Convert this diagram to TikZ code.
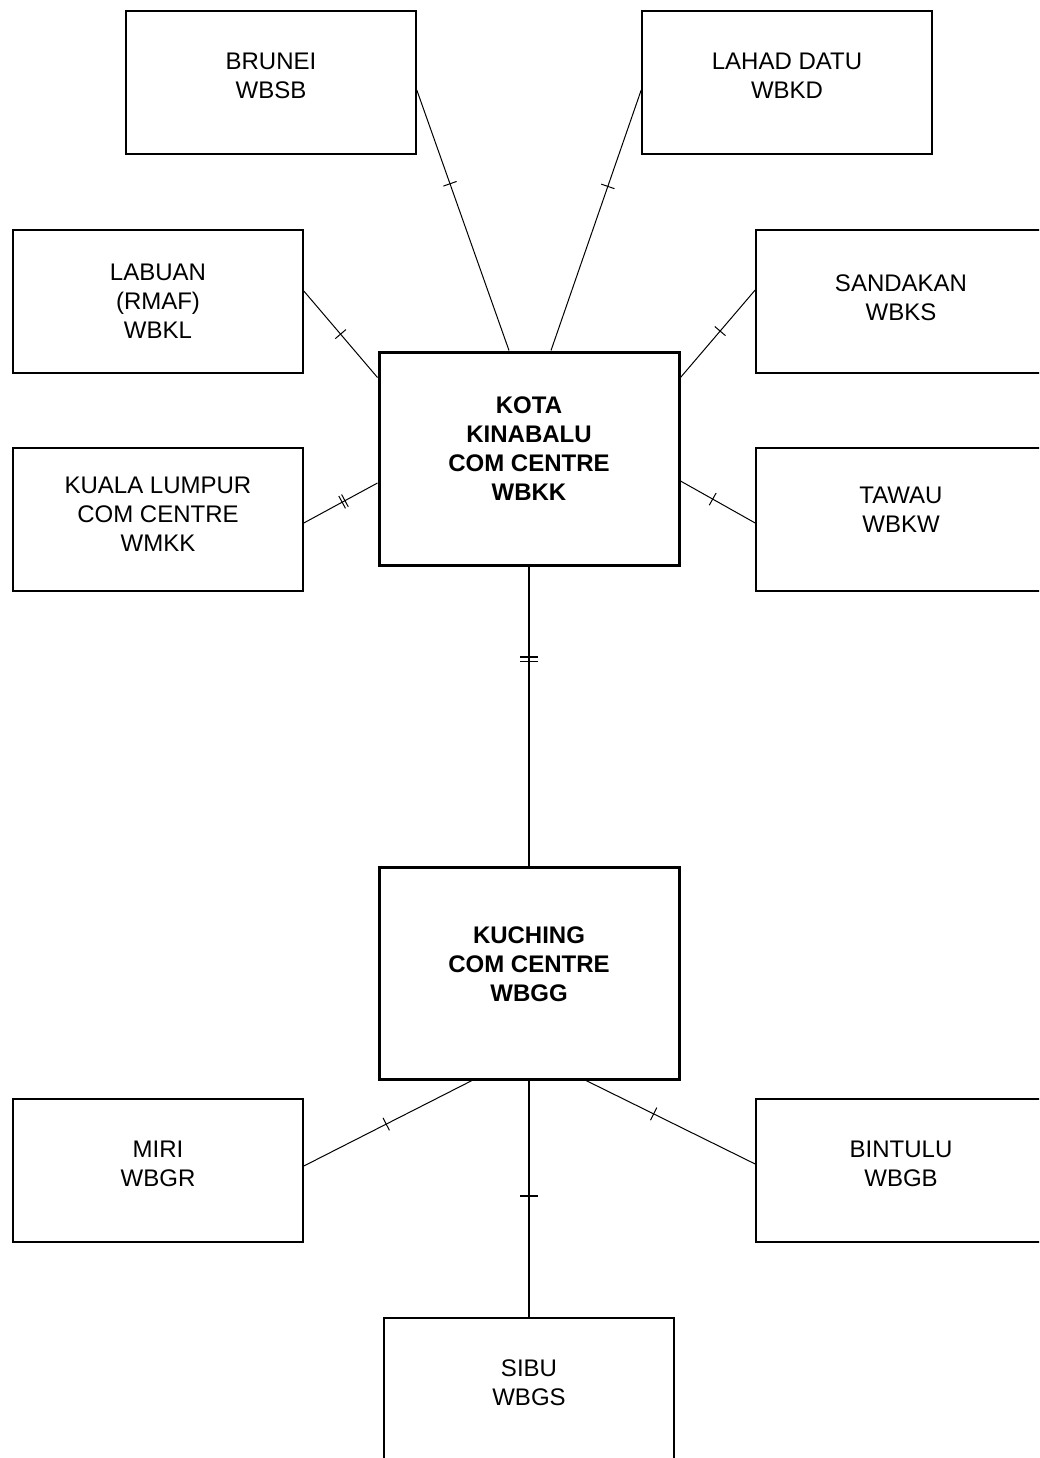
\documentclass[tikz,border=0pt]{standalone}
\usepackage{fontspec}
\setmainfont{Liberation Sans}
\usetikzlibrary{decorations.markings}
\begin{document}
\begin{tikzpicture}[x=1pt,y=1pt,
  stn/.style={draw, line width=1.6pt, minimum width=290pt, minimum height=143pt, inner sep=0pt},
  hub/.style={draw, line width=3pt, minimum width=300pt, minimum height=212pt, inner sep=0pt},
  txt/.style={font=\fontsize{24}{29}\selectfont, align=center},
  btxt/.style={font=\fontsize{24}{29}\selectfont\bfseries, align=center},
  link/.style={line width=1pt},
  trunk/.style={line width=2pt},
  tick/.style={postaction={decorate, decoration={markings,
     mark=at position #1 with {\draw[line width=1pt] (0,-7pt) -- (0,7pt);}}}},
  vtick/.style={postaction={decorate, decoration={markings,
     mark=at position #1 with {\draw[line width=2pt] (0,-9pt) -- (0,9pt);}}}},
  dtick/.style={postaction={decorate, decoration={markings,
     mark=at position #1 with {\draw[line width=1pt] (-1.6pt,-7pt) -- (-1.6pt,7pt) (1.6pt,-7pt) -- (1.6pt,7pt);}}}},
  vdtick/.style={postaction={decorate, decoration={markings,
     mark=at position #1 with {\draw[line width=1.5pt] (-2.2pt,-9pt) -- (-2.2pt,9pt) (2.2pt,-9pt) -- (2.2pt,9pt);}}}}
]
\clip (0,0) rectangle (1039,-1458);
\fill[white] (0,0) rectangle (1039,-1458);

\node[stn, label={[txt,yshift=6.5pt]center:BRUNEI\\WBSB}] (brunei) at (271,-82.5) {};
\node[stn, label={[txt,yshift=6.5pt]center:LAHAD DATU\\WBKD}] (lahad) at (787,-82.5) {};
\node[stn, label={[txt,yshift=0pt]center:LABUAN\\(RMAF)\\WBKL}] (labuan) at (158,-301.5) {};
\node[stn, label={[txt,yshift=3.5pt]center:SANDAKAN\\WBKS}] (sandakan) at (901,-301.5) {};
\node[stn, label={[txt,yshift=5.5pt]center:KUALA LUMPUR\\COM CENTRE\\WMKK}] (kl) at (158,-519.5) {};
\node[stn, label={[txt,yshift=9.5pt]center:TAWAU\\WBKW}] (tawau) at (901,-519.5) {};
\node[hub, minimum height=213pt, label={[btxt,yshift=10pt]center:KOTA\\KINABALU\\COM CENTRE\\WBKK}] (kk) at (529,-458.5) {};
\node[hub, label={[btxt,yshift=9pt]center:KUCHING\\COM CENTRE\\WBGG}] (kuching) at (529,-973) {};
\node[stn, label={[txt,yshift=6.5pt]center:MIRI\\WBGR}] (miri) at (158,-1170.5) {};
\node[stn, label={[txt,yshift=6.5pt]center:BINTULU\\WBGB}] (bintulu) at (901,-1170.5) {};
\node[stn, label={[txt,yshift=6.5pt]center:SIBU\\WBGS}] (sibu) at (529,-1389.5) {};

\draw[link, tick=0.36] ([yshift=-7.5pt]brunei.east) -- ([xshift=-20pt]kk.north);
\draw[link, tick=0.37] ([yshift=-7.5pt]lahad.west) -- ([xshift=22pt]kk.north);
\draw[link, tick=0.5] ([yshift=10.5pt]labuan.east) -- ([yshift=-27pt]kk.north west);
\draw[link, dtick=0.54] ([yshift=-3.5pt]kl.east) -- ([yshift=-24.5pt]kk.west);
\draw[link, tick=0.47] ([yshift=11.5pt]sandakan.west) -- ([yshift=-27pt]kk.north east);
\draw[link, tick=0.57] ([yshift=-3.5pt]tawau.west) -- ([yshift=-22.5pt]kk.east);
\draw[trunk, vdtick=0.31] (kk.south) -- (kuching.north);
\draw[link, tick=0.51] ([xshift=-57pt]kuching.south) -- ([yshift=4.5pt]miri.east);
\draw[link, tick=0.4] ([xshift=57pt]kuching.south) -- ([yshift=6.5pt]bintulu.west);
\draw[trunk, vtick=0.49] (kuching.south) -- (sibu.north);
\end{tikzpicture}
\end{document}
